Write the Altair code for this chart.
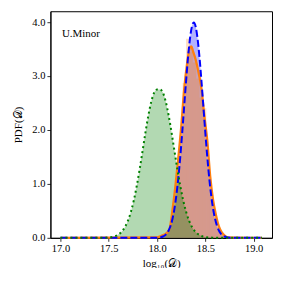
import altair as alt
import pandas as pd

# ---- data ----
green_x = [17.0, 17.46, 17.49, 17.52, 17.55, 17.58, 17.61, 17.64, 17.67, 17.70, 17.73,
           17.76, 17.79, 17.82, 17.85, 17.88, 17.91, 17.94, 17.97, 18.00, 18.03,
           18.06, 18.09, 18.12, 18.15, 18.18, 18.21, 18.24, 18.27, 18.30, 18.33,
           18.36, 18.39, 18.42, 18.45, 18.48, 18.51, 18.54, 18.57, 18.60, 19.086]
green_y = [0.0, 0.003, 0.006, 0.011, 0.022, 0.041, 0.074, 0.126, 0.206, 0.323, 0.486,
           0.699, 0.964, 1.273, 1.610, 1.953, 2.268, 2.524, 2.692, 2.75, 2.75,
           2.692, 2.524, 2.268, 1.953, 1.610, 1.273, 0.964, 0.699, 0.486, 0.323,
           0.206, 0.126, 0.074, 0.041, 0.022, 0.011, 0.006, 0.003, 0.001, 0.0]

blue_x = [17.0, 17.98, 18.00, 18.02, 18.04, 18.06, 18.08, 18.10, 18.12, 18.14, 18.16,
          18.18, 18.20, 18.22, 18.24, 18.26, 18.28, 18.30, 18.32, 18.34, 18.36,
          18.38, 18.40, 18.42, 18.44, 18.46, 18.48, 18.50, 18.52, 18.54, 18.56,
          18.58, 18.60, 18.62, 18.64, 18.66, 18.68, 18.70, 18.72, 18.74, 18.76,
          18.78, 19.086]
blue_y = [0.0, 0.001, 0.003, 0.006, 0.012, 0.024, 0.044, 0.079, 0.136, 0.224, 0.355,
          0.540, 0.790, 1.109, 1.497, 1.942, 2.420, 2.897, 3.333, 3.683, 3.911,
          3.99, 3.911, 3.683, 3.333, 2.897, 2.420, 1.942, 1.497, 1.109, 0.790,
          0.540, 0.355, 0.224, 0.136, 0.079, 0.044, 0.024, 0.012, 0.006, 0.003,
          0.001, 0.0]

orange_x = [17.0, 18.00, 18.05, 18.10, 18.13, 18.16, 18.19, 18.22, 18.25, 18.28,
            18.31, 18.34, 18.355, 18.37, 18.40, 18.43, 18.46, 18.49, 18.52, 18.55,
            18.58, 18.61, 18.64, 18.67, 18.70, 18.73, 19.086]
orange_y = [0.0, 0.01, 0.04, 0.09, 0.17, 0.52, 0.96, 1.48, 2.05, 2.74,
            3.22, 3.53, 3.55, 3.47, 3.30, 3.06, 2.76, 2.25, 1.80, 1.14,
            0.70, 0.42, 0.21, 0.10, 0.04, 0.01, 0.0]

hist_left = [18.09, 18.125, 18.16, 18.195, 18.23, 18.265, 18.30, 18.335, 18.37,
             18.405, 18.44, 18.475, 18.51, 18.545, 18.58, 18.615, 18.65, 18.685]
hist_right = [18.125, 18.16, 18.195, 18.23, 18.265, 18.30, 18.335, 18.37, 18.405,
              18.44, 18.475, 18.51, 18.545, 18.58, 18.615, 18.65, 18.685, 18.72]
hist_h = [0.10, 0.25, 0.60, 1.20, 1.90, 2.87, 3.69, 3.45, 3.25, 2.95, 2.60, 2.40,
          1.40, 0.80, 0.45, 0.20, 0.10, 0.03]

x_ticks = [17.0, 17.5, 18.0, 18.5, 19.0]
y_ticks = [0.0, 0.5, 1.0, 1.5, 2.0, 2.5, 3.0, 3.5, 4.0]
x_domain = [16.896, 19.19]
y_domain = [0.0, 4.2]

GREEN = "#008000"
BLUE = "#0000ff"
ORANGE = "#ff7f0e"
FONT = "Liberation Serif"

g_df = pd.DataFrame({"x": green_x, "y": green_y})
b_df = pd.DataFrame({"x": blue_x, "y": blue_y})
o_df = pd.DataFrame({"x": orange_x, "y": orange_y})
h_df = pd.DataFrame({"x1": hist_left, "x2": hist_right, "h": hist_h})

xs = alt.Scale(domain=x_domain, nice=False, zero=False)
ys = alt.Scale(domain=y_domain, nice=False)

xax = alt.Axis(values=x_ticks, format=".1f", title="log₁₀(𝒟)", grid=False,
               labelOverlap=False, labelFlush=False)
yax = alt.Axis(values=y_ticks, format=".1f", title="PDF(𝒟)", grid=False,
               labelOverlap=False, labelFlush=False)

def area(df, color, op):
    return alt.Chart(df).mark_area(color=color, opacity=op, interpolate="monotone").encode(
        x=alt.X("x:Q", scale=xs, axis=xax), y=alt.Y("y:Q", scale=ys, axis=yax))

def line(df, color, dash, w=2):
    kw = dict(color=color, strokeWidth=w, interpolate="monotone", strokeCap="butt")
    if dash:
        kw["strokeDash"] = dash
    return alt.Chart(df).mark_line(**kw).encode(
        x=alt.X("x:Q", scale=xs), y=alt.Y("y:Q", scale=ys))

bars = alt.Chart(h_df).mark_rect(color=ORANGE, opacity=0.25).encode(
    x=alt.X("x1:Q", scale=xs), x2="x2:Q", y=alt.Y("h:Q", scale=ys), y2=alt.datum(0))

label = alt.Chart(pd.DataFrame({"t": ["U.Minor"]})).mark_text(
    align="left", baseline="middle", font=FONT, fontSize=11, color="black").encode(
    x=alt.value(11.5), y=alt.value(23), text="t:N")

chart = alt.layer(
    area(b_df, BLUE, 0.3),
    bars,
    area(o_df, ORANGE, 0.3),
    area(g_df, GREEN, 0.3),
    line(o_df, ORANGE, None, 2.3),
    line(b_df, BLUE, [7, 3]),
    line(g_df, GREEN, [2, 3]),
    label,
).properties(
    width=222, height=227,
    autosize=alt.AutoSizeParams(type="none"),
    padding={"left": 42.5, "top": 3, "right": 4, "bottom": 30},
).configure_view(
    stroke="black", strokeWidth=1
).configure_axis(
    labelFont=FONT, titleFont=FONT, labelFontSize=10.5, titleFontSize=11,
    labelColor="black", titleColor="black", tickColor="black", domainColor="black",
    tickSize=3.5, tickWidth=0.8, domainWidth=1, titleFontWeight="normal",
).configure_axisY(titlePadding=8).configure_axisX(titlePadding=4)

chart.save("out.html", embed_options={"renderer": "svg", "actions": False})
